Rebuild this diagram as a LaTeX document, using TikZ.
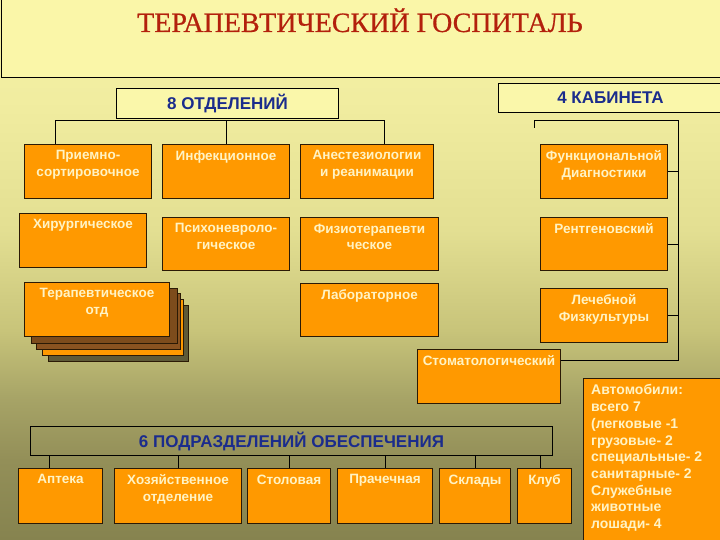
\documentclass[tikz,border=0pt]{standalone}
\usepackage{fontspec}
\setmainfont{Liberation Sans}
\newfontfamily\titlefont[FakeBold=0.6]{Liberation Serif}
\definecolor{bgtop}{HTML}{F5F1A6}
\definecolor{bgc100}{HTML}{F1EDA0}
\definecolor{bgc230}{HTML}{E3DF92}
\definecolor{bgc330}{HTML}{C8C47A}
\definecolor{bgc400}{HTML}{A6A366}
\definecolor{bgc460}{HTML}{938F58}
\definecolor{bgbot}{HTML}{86834F}
\definecolor{titlefill}{HTML}{FAF6A8}
\definecolor{lightfill}{HTML}{FAF7AA}
\definecolor{orng}{HTML}{FF9900}
\definecolor{boxline}{HTML}{2B1A05}
\definecolor{navy}{HTML}{1B2C8C}
\definecolor{titlered}{HTML}{B3200C}
\definecolor{cream}{HTML}{FFF3C4}
\definecolor{brownL}{HTML}{7D4C1C}
\definecolor{brownD}{HTML}{8A5320}
\definecolor{olivesh}{HTML}{5E5A38}
\pgfdeclareverticalshading{bgshade}{100bp}{color(0bp)=(bgbot); color(25bp)=(bgbot);
  color(32.4bp)=(bgc460); color(37.96bp)=(bgc400); color(44.44bp)=(bgc330);
  color(53.7bp)=(bgc230); color(65.74bp)=(bgc100); color(75bp)=(bgtop); color(100bp)=(bgtop)}
\tikzset{
  obox/.style={draw=boxline, fill=orng, line width=1pt, anchor=north west, inner sep=0pt},
  otext/.style={anchor=north, text=cream, font=\bfseries\fontsize{13.5}{16.5}\selectfont, align=center, inner sep=0pt},
  lbox/.style={draw=black, fill=lightfill, line width=1pt, anchor=north west, inner sep=0pt,
    text=navy, font=\bfseries\fontsize{17}{19}\selectfont},
  conn/.style={draw=black, line width=1pt},
  stk/.style={draw=boxline, line width=1pt},
}
\newcommand{\obx}[6]{%
  \node[obox, minimum width={#4-#2}, minimum height={#5-#3}] (#1) at (#2,#3) {};
  \node[otext] (#1-t) at ([yshift=-6.5pt]#1.north) {#6};}
\begin{document}
\begin{tikzpicture}[x=1pt,y=-1pt]
\useasboundingbox (0,0) rectangle (720,540);
\clip (0,0) rectangle (720,540);
\shade[shading=bgshade] (0,0) rectangle (720,540);

% title
\node[draw=black, line width=1pt, fill=titlefill, minimum width=740, minimum height=90,
      anchor=south west, inner sep=0pt] (titlebox) at (1,78) {};
\node[anchor=base, text=titlered, inner sep=0pt,
      font=\titlefont\fontsize{28}{30}\selectfont] (titletext) at (360,32) {ТЕРАПЕВТИЧЕСКИЙ ГОСПИТАЛЬ};

% headers
\node[lbox, minimum width=222, minimum height=30] (otd) at (116,88) {8 ОТДЕЛЕНИЙ};
\node[lbox, minimum width=224, minimum height=29] (kab) at (498,83) {4 КАБИНЕТА};

% row 1
\obx{priem}{24}{144}{151}{198}{Приемно-\\сортировочное}
\obx{inf}{162}{144}{289}{198}{Инфекционное}
\obx{anest}{300}{144}{433}{198}{Анестезиологии\\и реанимации}
\obx{func}{540}{144}{667}{198}{Функциональной\\Диагностики}
% row 2
\obx{hir}{19}{213}{146}{267}{Хирургическое}
\obx{psy}{162}{217}{289}{270}{Психоневроло-\\гическое}
\obx{fizio}{300}{217}{438}{270}{Физиотерапевти\\ческое}
\obx{rtg}{540}{217}{667}{270}{Рентгеновский}
% row 3 : stack
\draw[stk, fill=olivesh] (48,305) rectangle (188,361);
\draw[stk, fill=orng] (42,299) rectangle (183,355);
\draw[stk, fill=brownD] (36,293) rectangle (180,349);
\draw[stk, fill=brownL] (31,288) rectangle (177,343);
\obx{ter}{24}{282}{169}{336}{Терапевтическое\\отд}
\obx{lab}{300}{283}{438}{336}{Лабораторное}
\obx{lech}{540}{288}{667}{342}{Лечебной\\Физкультуры}
\obx{stom}{417}{349}{560}{403}{Стоматологический}

% connectors of 8 otdelenij
\coordinate (busL) at (55,121);
\coordinate (busR) at (384,121);
\draw[conn] (priem.north -| busL) -- (busL) -- (busR) -- (anest.north -| busR);
\draw[conn] (busL -| inf.north) -- (inf.north);

% connectors of 4 kabineta
\coordinate (kabL) at (534,121);
\coordinate (kabR) at (678,121);
\coordinate (kabB) at (678,360);
\draw[conn] ([yshift=-7pt]kabL) -- (kabL) -- (kabR) -- (kabB) -- (kabB -| stom.east);
\draw[conn] (kabR |- func.east) -- (func.east);
\draw[conn] (kabR |- rtg.east) -- (rtg.east);
\draw[conn] (kabR |- lech.east) -- (lech.east);

% support units
\node[draw=black, line width=1pt, minimum width=522, minimum height=29, anchor=north west, inner sep=0pt,
      text=navy, font=\bfseries\fontsize{17}{19}\selectfont] (podr) at (30,426) {6 ПОДРАЗДЕЛЕНИЙ ОБЕСПЕЧЕНИЯ};
\obx{apt}{18}{468}{102}{523}{Аптека}
\obx{hoz}{114}{468}{241}{523}{Хозяйственное\\отделение}
\obx{stol}{247}{468}{330}{523}{Столовая}
\obx{prach}{337}{468}{432}{523}{Прачечная}
\obx{sklad}{439}{468}{510}{523}{Склады}
\obx{klub}{517}{468}{571}{523}{Клуб}
\draw[conn] ([xshift=-11pt]apt.north |- podr.south) -- ([xshift=-11pt]apt.north);
\draw[conn] (hoz.north |- podr.south) -- (hoz.north);
\draw[conn] (stol.north |- podr.south) -- (stol.north);
\draw[conn] (prach.north |- podr.south) -- (prach.north);
\draw[conn] (sklad.north |- podr.south) -- (sklad.north);
\draw[conn] ([xshift=-4pt]klub.north |- podr.south) -- ([xshift=-4pt]klub.north);

% vehicles
\node[obox, minimum width=150, minimum height=175] (avto) at (583,378) {};
\node[anchor=north west, text=cream, inner sep=0pt, align=left,
      font=\bfseries\fontsize{14}{16.7}\selectfont] (avto-t) at ([xshift=8pt,yshift=-6.5pt]avto.north west)
  {Автомобили:\\всего 7\\(легковые -1\\грузовые- 2\\специальные- 2\\санитарные- 2\\Служебные\\животные\\лошади- 4};
\end{tikzpicture}
\end{document}
